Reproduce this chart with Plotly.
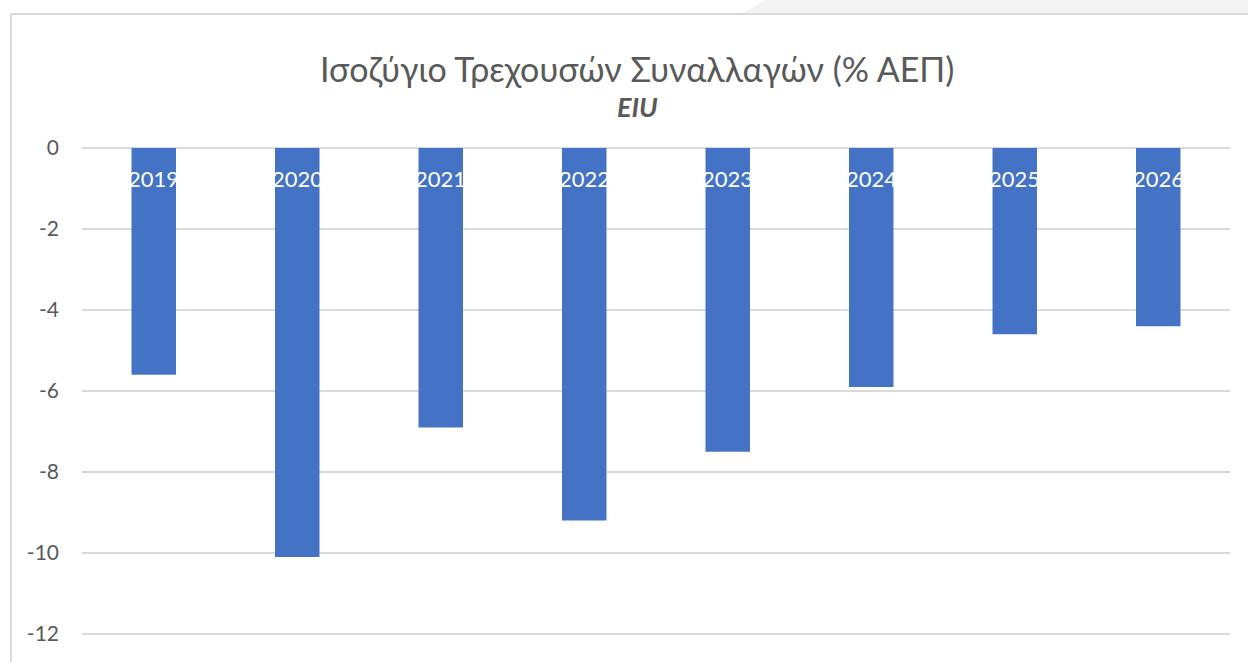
import plotly.graph_objects as go

# data
years = ["2019", "2020", "2021", "2022", "2023", "2024", "2025", "2026"]
balance = [-5.6, -10.1, -6.9, -9.2, -7.5, -5.9, -4.6, -4.4]
y_ticks = [0, -2, -4, -6, -8, -10, -12]
y_tick_text = ["0", "-2", "-4", "-6", "-8", "-10", "-12"]

W, H = 1248, 662
FONT = "Lato, 'Noto Sans', sans-serif"
GREY = "#595959"

fig = go.Figure()

fig.add_trace(go.Bar(
    x=years,
    y=balance,
    marker=dict(color="#4472C4", line=dict(width=0)),
    hoverinfo="x+y",
))

# year labels sit inside the bars, right under the zero line
# (numeric-looking category names are read as indices by annotations, so use the index)
for i, yr in enumerate(years):
    fig.add_annotation(
        x=i, y=0, xref="x", yref="y",
        text=yr, showarrow=False,
        yanchor="middle", yshift=-30,
        font=dict(family=FONT, size=22, color="white"),
    )

fig.add_annotation(
    x=637 / W, y=1 - 68 / H, xref="paper", yref="paper",
    text="Ισοζύγιο Τρεχουσών Συναλλαγών (% ΑΕΠ)", showarrow=False,
    xanchor="center", yanchor="middle",
    font=dict(family=FONT, size=34, color=GREY),
)
fig.add_annotation(
    x=637 / W, y=1 - 106 / H, xref="paper", yref="paper",
    text="<b><i>EIU</i></b>", showarrow=False,
    xanchor="center", yanchor="middle",
    font=dict(family=FONT, size=27, color=GREY),
)

# chart frame and the grey background corner of the screenshot
fig.add_shape(type="path", xref="paper", yref="paper",
              path=f"M {742/W} {1-13/H} L {766/W} 1 L 1 1 L 1 {1-13/H} Z",
              fillcolor="#f3f3f3", line=dict(width=0), layer="below")
fig.add_shape(type="line", xref="paper", yref="paper",
              x0=11 / W, x1=1, y0=1 - 14 / H, y1=1 - 14 / H,
              line=dict(color="#d9d9d9", width=2))
fig.add_shape(type="line", xref="paper", yref="paper",
              x0=11 / W, x1=11 / W, y0=0, y1=1 - 14 / H,
              line=dict(color="#d9d9d9", width=2))

px_per_unit = (634 - 148) / 12
fig.update_layout(
    width=W, height=H,
    margin=dict(l=0, r=0, t=0, b=0, pad=0, autoexpand=False),
    paper_bgcolor="white", plot_bgcolor="white",
    showlegend=False,
    bargap=0.69,
    xaxis=dict(
        type="category",
        range=[-0.5, len(years) - 0.5],
        domain=[82 / W, 1230 / W],
        automargin=False,
        showticklabels=False, showgrid=False, zeroline=False,
        showline=False, ticks="",
    ),
    yaxis=dict(
        domain=[0, 1 - 140 / H],
        range=[-(H - 148) / px_per_unit, 8 / px_per_unit],
        automargin=False,
        tickvals=y_ticks, ticktext=y_tick_text,
        showgrid=True, gridcolor="#d9d9d9", gridwidth=1.5,
        zeroline=True, zerolinecolor="#d9d9d9", zerolinewidth=1.5,
        showline=False, ticks="",
        ticklabelstandoff=22,
        tickfont=dict(family=FONT, size=21, color=GREY),
    ),
)

# pin the figure to the top-left corner of the page
pin = ("document.body.style.margin='0';"
       "var d=document.getElementById('{plot_id}');"
       "d.style.position='absolute';d.style.left='0px';d.style.top='0px';")
fig.write_html("out.html", config={"displayModeBar": False}, post_script=pin)
